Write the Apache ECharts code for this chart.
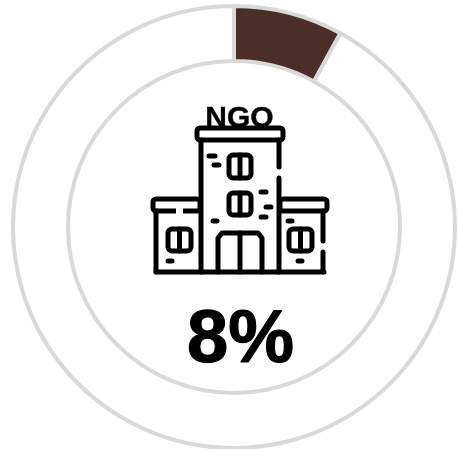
<!DOCTYPE html>
<html>
<head>
<meta charset="utf-8">
<style>html,body{margin:0;padding:0;background:#fff}#c{width:458px;height:449px}</style>
<script src="https://cdn.jsdelivr.net/npm/echarts@6/dist/echarts.min.js"></script>
</head>
<body>
<div id="c"></div>
<script>
const categories = ['NGO', 'Other'];
const values = [8, 92];
const sliceColors = ['#4a2e27', '#ffffff'];
const centerLabel = '8%';
const iconLabel = 'NGO';

// Decorative building icon outlines (not data)
const iconRects = [
  [197, 128, 86, 12, 3], [153, 199, 47, 12, 3], [280, 199, 47, 12, 3],
  [229, 155, 22, 23, 4], [229, 193, 22, 22, 4],
  [168, 229, 23, 22, 4], [289, 229, 23, 22, 4]
];
const iconLines = [
  [[201,140],[201,272]], [[279,140],[279,167]], [[279,178],[279,272]],
  [[156,272],[324,272]], [[156,211],[156,272]],
  [[323,211],[323,241]], [[323,252],[323,272]],
  [[240,155],[240,178]], [[240,193],[240,215]],
  [[179.5,229],[179.5,251]], [[300.5,229],[300.5,251]],
  [[218,272],[218,238],[222,233],[258,233],[262,238],[262,272]], [[240,233],[240,272]],
  [[209,156],[215,156]], [[214,165],[219,165]], [[261,192],[266,192]],
  [[266,207],[271,207]], [[261,217],[266,217]], [[213,221],[217,221]],
  [[288,221],[292,221]], [[168,261],[172,261]], [[298,261],[302,261]]
];
const stroke = {stroke:'#000', lineWidth:5, lineCap:'round', lineJoin:'round', fill:null};
const graphics = [
  {type:'text', z:10, style:{x:239.5, y:134, text:iconLabel, fill:'#000', stroke:'#000', lineWidth:0.4, align:'center', verticalAlign:'bottom',
    font:'bold 30px "Liberation Sans"'}},
  {type:'rect', z:11, shape:{x:197,y:128,width:86,height:12,r:3}, style:{stroke:'#000',lineWidth:5,fill:'#fff'}}
];
iconRects.slice(1).forEach(r => graphics.push({type:'rect', z:11,
  shape:{x:r[0],y:r[1],width:r[2],height:r[3],r:r[4]}, style:stroke}));
iconLines.forEach(p => graphics.push({type:'polyline', z:11, shape:{points:p}, style:stroke}));
// small gap in the left wing's cap
graphics.push({type:'rect', z:12, shape:{x:176,y:208,width:7,height:6}, style:{fill:'#fff'}});
graphics.push({type:'text', z:10, style:{x:240.5, y:342, text:centerLabel, fill:'#000', stroke:'#000', lineWidth:1.2, align:'center', verticalAlign:'middle',
  font:'bold 74px "Liberation Sans"'}});

const chart = echarts.init(document.getElementById('c'), null, {renderer:'canvas'});
chart.setOption({
  animation:false,
  backgroundColor:'#fff',
  series:[{
    type:'pie',
    center:[234,227],
    radius:[166,221],
    startAngle:90,
    clockwise:true,
    silent:true,
    label:{show:false},
    labelLine:{show:false},
    itemStyle:{borderColor:'#d9d9d9', borderWidth:4},
    data:categories.map((n,i)=>({name:n, value:values[i], itemStyle:{color:sliceColors[i]}}))
  }],
  graphic:graphics
});
</script>
</body>
</html>
